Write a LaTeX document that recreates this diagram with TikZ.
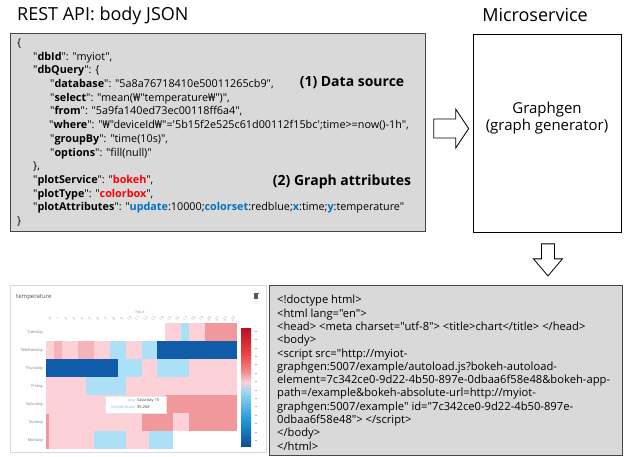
\documentclass[tikz,border=0pt]{standalone}
\usepackage{fontspec}
\setmainfont{Open Sans}
\newfontfamily\uifont{Open Sans}
\newfontfamily\wonfont{Noto Sans}
\usetikzlibrary{calc}

\definecolor{boxgray}{RGB}{217,217,217}
\definecolor{edgegray}{RGB}{70,70,70}
\definecolor{valred}{RGB}{255,0,0}
\definecolor{valblue}{RGB}{0,112,192}
% heat map palette
\definecolor{lp}{RGB}{252,210,216}
\definecolor{sa}{RGB}{240,152,156}
\definecolor{md}{RGB}{245,180,186}
\definecolor{lb}{RGB}{172,224,246}
\definecolor{db}{RGB}{16,92,168}
\definecolor{cbA}{RGB}{185,18,38}
\definecolor{cbB}{RGB}{235,60,60}
\definecolor{cbC}{RGB}{243,140,145}
\definecolor{cbD}{RGB}{250,208,214}
\definecolor{cbE}{RGB}{150,215,245}
\definecolor{cbF}{RGB}{30,150,220}
\definecolor{cbG}{RGB}{15,78,150}

\newcommand\setfs[2]{\fontsize{#1}{#2}\selectfont}
\newcommand\jk[1]{"\textbf{#1}"}
\newcommand\won{{\wonfont ₩}}

\begin{document}
\begin{tikzpicture}[x=1pt,y=-1pt,
  heading/.style={inner sep=0, font=\uifont\setfs{18}{20}},
  panel/.style={draw=edgegray, line width=1.3pt, fill=boxgray, inner sep=0, anchor=north west},
  plainbox/.style={draw=black, line width=0.9pt, fill=white, inner sep=0, anchor=north west},
  jsonline/.style={anchor=base west, inner sep=0, font=\uifont\setfs{10.8}{12}},
  htmlline/.style={anchor=base west, inner sep=0, font=\uifont\setfs{11.2}{12}},
  tag/.style={anchor=base, inner sep=0, font=\uifont\bfseries\setfs{14}{16}},
  hollow/.style={draw=black, line width=0.8pt, fill=white, line join=miter},
  tinylabel/.style={inner sep=0, font=\uifont\setfs{4}{5}, text=gray},
]
\useasboundingbox (0,0) rectangle (624,457);

% ---------- headings ----------
\node[heading, anchor=base west] (resttitle) at (17,21) {REST API: body JSON};
\node[heading, anchor=base] (mstitle) at (535,22) {Microservice};

% ---------- request body ----------
\node[panel, minimum width=415pt, minimum height=198pt] (json) at (10,33) {};
\node[jsonline] (j1)  at (17,46.5)  {\{};
\node[jsonline] (j2)  at (33,60.2)  {\jk{dbId}: "myiot",};
\node[jsonline] (j3)  at (33,73.9)  {\jk{dbQuery}: \{};
\node[jsonline] (j4)  at (50,87.6)  {\jk{database}: "5a8a76718410e50011265cb9",};
\node[jsonline] (j5)  at (50,101.3) {\jk{select}: "mean(\won"temperature\won")",};
\node[jsonline] (j6)  at (50,115.0) {\jk{from}: "5a9fa140ed73ec00118ff6a4",};
\node[jsonline] (j7)  at (49,128.7) {\jk{where}: "\won"deviceId\won"='5b15f2e525c61d00112f15bc';time>=now()-1h",};
\node[jsonline] (j8)  at (50,142.4) {\jk{groupBy}: "time(10s)",};
\node[jsonline] (j9)  at (50,156.1) {\jk{options}: "fill(null)"};
\node[jsonline] (j10) at (33,169.8) {\},};
\node[jsonline] (j11) at (33,183.5) {\jk{plotService}: "\textbf{\color{valred}bokeh}",};
\node[jsonline] (j12) at (33,197.2) {\jk{plotType}: "\textbf{\color{valred}colorbox}",};
\node[jsonline] (j13) at (33,210.9) {\jk{plotAttributes}: "\textbf{\color{valblue}update}:10000;\textbf{\color{valblue}colorset}:redblue;\textbf{\color{valblue}x}:time;\textbf{\color{valblue}y}:temperature"};
\node[jsonline] (j14) at (17,224.6) {\}};
\node[tag] (tagsrc)  at (352,87)  {(1) Data source};
\node[tag] (tagattr) at (342,186) {(2) Graph attributes};

% ---------- microservice ----------
\node[plainbox, minimum width=148pt, minimum height=198pt] (ms) at (473,34) {};
\node[inner sep=0, align=center, font=\uifont\setfs{15}{17}, anchor=base] (gen) at (547,131)
  {Graphgen\\(graph generator)};

% ---------- hollow arrows ----------
\coordinate (toms) at ($(json.east)!0.5!(ms.west)+(-16,-4.5)$);
\draw[hollow] (toms) ++(0,-9.5) -- ++(22,0) -- ++(0,-10) -- ++(13,19.5)
  -- ++(-13,19.5) -- ++(0,-10) -- ++(-22,0) -- cycle;
\coordinate (fromms) at ($(ms.south)+(0.5,11)$);
\draw[hollow] (fromms) ++(-6.5,0) -- ++(13,0) -- ++(0,15) -- ++(8,0)
  -- ++(-14.5,17) -- ++(-14.5,-17) -- ++(8,0) -- cycle;

% ---------- generated html ----------
\node[panel, minimum width=353pt, minimum height=170pt] (html) at (269,285) {};
\node[htmlline] (h1)  at (277,303.8) {<!doctype html>};
\node[htmlline] (h2)  at (277,317.1) {<html lang="en">};
\node[htmlline] (h3)  at (277,330.4) {<head> <meta charset="utf-8"> <title>chart</title> </head>};
\node[htmlline] (h4)  at (277,343.7) {<body>};
\node[htmlline] (h5)  at (277,357.0) {<script src="http://myiot-};
\node[htmlline] (h6)  at (277,370.3) {graphgen:5007/example/autoload.js?bokeh-autoload-};
\node[htmlline] (h7)  at (277,383.6) {element=7c342ce0-9d22-4b50-897e-0dbaa6f58e48\&bokeh-app-};
\node[htmlline] (h8)  at (277,396.9) {path=/example\&bokeh-absolute-url=http://myiot-};
\node[htmlline] (h9)  at (277,410.2) {graphgen:5007/example" id="7c342ce0-9d22-4b50-897e-};
\node[htmlline] (h10) at (277,423.5) {0dbaa6f58e48"> </script>};
\node[htmlline] (h11) at (277,436.8) {</body>};
\node[htmlline] (h12) at (277,450.1) {</html>};

% ---------- rendered chart ----------
\node[draw=gray!30, line width=0.8pt, fill=white, inner sep=0, anchor=north west,
  minimum width=256pt, minimum height=167pt] (card) at (10,285) {};
\node[inner sep=0, anchor=west, font=\uifont\setfs{6}{7}, text=black!70] (charttitle) at (16,297) {temperature};
\fill[black!65] (254,293) rectangle (258,299);
\fill[black!65] (253.5,292.5) rectangle (258.5,293.3);
\node[tinylabel, text=gray!80] (hourlbl) at (140,312) {hour};
\foreach \k in {0,...,23}
  \node[tinylabel, rotate=45, text=gray!70] (tk\k) at ({50+7.96*\k},318.5) {\k};

\foreach \row [count=\r from 0] in {
  {none,none,none,none,none,none,none,none,none,none,none,none,none,none,none,lp,lp,lb,lp,lp,sa,sa,sa,sa},
  {lp,md,lp,lp,md,md,lp,lp,lb,lb,lp,lp,lb,lb,db,db,db,db,db,db,db,db,db,db},
  {db,db,db,db,db,db,db,db,db,lb,lb,lb,lp,lp,lb,lb,lb,lb,lp,lp,lp,lp,lp,lp},
  {lp,lp,lp,lp,lp,lb,lb,lb,lb,lb,lp,lp,lp,lp,lp,lp,lp,lp,lp,lp,lp,lp,lp,lp},
  {lp,lp,lp,lp,lp,lp,lp,lp,lp,lp,lp,lp,lp,lp,lp,sa,sa,sa,sa,sa,sa,sa,sa,sa},
  {lp,lp,lp,lp,lp,lp,lp,lp,lp,lp,lp,lp,sa,sa,sa,sa,lp,lp,sa,sa,sa,sa,sa,sa},
  {lp,lp,lp,lp,lp,lp,lb,lb,lb,lb,lp,lp,lp,lb,lb,lb,none,none,none,none,none,none,none,none}}
  \foreach \c [count=\k from 0] in \row
    \path[fill=\c] ({46+7.96*\k},{323+18*\r}) rectangle ++(7.99,18.03);
\fill[sa] (46,414) rectangle (49,449);

\foreach \d [count=\r from 0] in {Tuesday,Wednesday,Thursday,Friday,Saturday,Sunday,Monday}
  \node[tinylabel, anchor=east] (day\r) at (43,{332+18*\r}) {\d};

% tooltip
\node[draw=gray!20, fill=white, inner sep=0, anchor=north west,
  minimum width=61pt, minimum height=17pt] (tip) at (105,396) {};
\node[tinylabel, anchor=base east, text=lb!80!blue] (tipk1) at (135,401.5) {day};
\node[tinylabel, anchor=base west, text=black!75] (tipv1) at (137,401.5) {Saturday 15};
\node[tinylabel, anchor=base east, text=lb!80!blue] (tipk2) at (135,408.5) {temperature};
\node[tinylabel, anchor=base west, text=black!75] (tipv2) at (137,408.5) {35.268};

% colour bar
\shade[top color=cbA, bottom color=cbB] (241,328) rectangle (251,352);
\shade[top color=cbB, bottom color=cbC] (241,352) rectangle (251,372);
\shade[top color=cbC, bottom color=cbD] (241,372) rectangle (251,382);
\shade[top color=cbD, bottom color=cbE] (241,382) rectangle (251,392);
\shade[top color=cbE, bottom color=cbF] (241,392) rectangle (251,420);
\shade[top color=cbF, bottom color=cbG] (241,420) rectangle (251,446);
\foreach \t in {0,...,13}
  \draw[gray!60, line width=0.5pt] (255,{331+8.4*\t}) -- ++(2,0);
\end{tikzpicture}
\end{document}
